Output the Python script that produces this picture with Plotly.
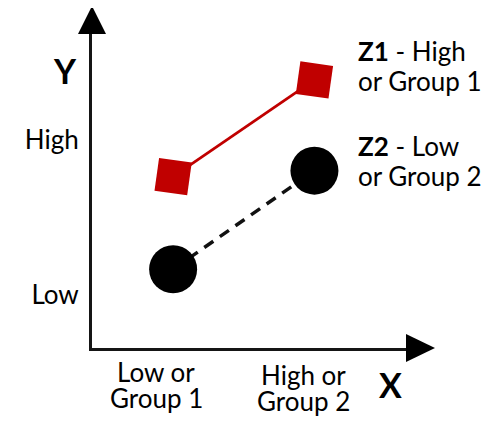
import plotly.graph_objects as go

# x positions of the two conditions, y values of each group
x_levels = [1, 2]
z1_values = [5.44, 8.51]
z2_values = [2.50, 5.63]

x_tick_text = ["Low or<br>Group 1", "High or<br>Group 2"]
y_tick_vals = [1.68, 6.61]
y_tick_text = ["Low", "High"]

z1_label = ["<b>Z1</b> - High", "or Group 1"]
z2_label = ["<b>Z2</b> - Low", "or Group 2"]

FONT = "Lato"
RED = "#C00000"
AXIS = "#151515"

fig = go.Figure()

fig.add_trace(go.Scatter(
    x=x_levels, y=z2_values, mode="lines+markers", name="Z2",
    line=dict(color="#111111", width=3.5, dash="11px,8px"),
    marker=dict(symbol="circle", size=48, color="black"),
    cliponaxis=False,
))
fig.add_trace(go.Scatter(
    x=x_levels, y=z1_values, mode="lines+markers", name="Z1",
    line=dict(color=RED, width=2.8),
    marker=dict(symbol="square", size=33, color=RED, angle=8),
    cliponaxis=False,
))

# arrow heads at the ends of both axes
fig.add_shape(type="path", xref="paper", yref="paper", xsizemode="pixel", ysizemode="pixel",
              xanchor=0, yanchor=1, path="M-14,-1 L14,-1 L0,27 Z",
              fillcolor="black", line=dict(width=0))
fig.add_shape(type="path", xref="paper", yref="paper", xsizemode="pixel", ysizemode="pixel",
              xanchor=1, yanchor=0, path="M-1,14 L-1,-14 L28,0 Z",
              fillcolor="black", line=dict(width=0))

annotations = []
# x category labels, a little left of the markers as in the source
for xv, txt, shift in zip(x_levels, x_tick_text, [-17, -11]):
    lines = txt.split("<br>")
    for i, line in enumerate(lines):
        annotations.append(dict(x=xv, y=0, xref="x", yref="paper", text=line, showarrow=False,
                                xanchor="center", yanchor="middle", xshift=shift,
                                yshift=-24 - 26 * i - (3 if xv == 2 else 0),
                                font=dict(family=FONT, size=26, color="black")))

# axis letters
annotations.append(dict(x=-0.086, y=0.882, xref="paper", yref="paper", text="<b>Y</b>",
                        xanchor="center", yanchor="middle",
                        showarrow=False, font=dict(family=FONT, size=34, color="black")))
annotations.append(dict(x=0.949, y=-0.117, xref="paper", yref="paper", text="<b>X</b>",
                        xanchor="center", yanchor="middle",
                        showarrow=False, font=dict(family=FONT, size=34, color="black")))

# group labels
for ypos, lines in [(0.944, z1_label), (0.64, z2_label)]:
    for i, line in enumerate(lines):
        annotations.append(dict(x=0.838, y=ypos, xref="paper", yref="paper", text=line,
                                showarrow=False, xanchor="left", yanchor="middle",
                                yshift=-30 * i,
                                font=dict(family=FONT, size=26, color="black")))

fig.update_layout(
    width=486, height=414,
    margin=dict(l=84, r=87, t=25, b=74),
    paper_bgcolor="white", plot_bgcolor="white",
    showlegend=False,
    annotations=annotations,
    xaxis=dict(range=[0.426, 2.655], showgrid=False, zeroline=False, automargin=False,
               showline=True, linecolor=AXIS, linewidth=3, showticklabels=False, ticks=""),
    yaxis=dict(range=[0, 10], showgrid=False, zeroline=False, automargin=False,
               showline=True, linecolor=AXIS, linewidth=3,
               tickvals=y_tick_vals, ticktext=y_tick_text, ticks="",
               ticklabelstandoff=5,
               tickfont=dict(family=FONT, size=26, color="black")),
)

fig.write_html("out.html")
